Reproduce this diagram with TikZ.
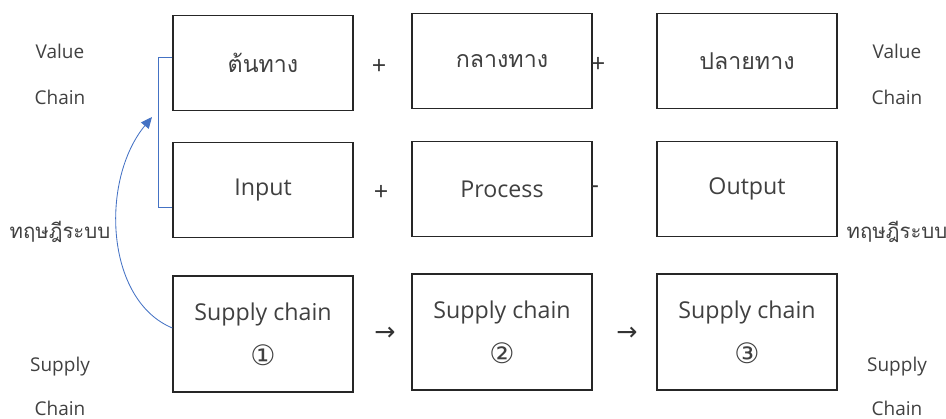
\documentclass[tikz,border=0pt]{standalone}
\usepackage{fontspec}
\setmainfont{Open Sans}
\newfontfamily\thaifont[Script=Thai]{Loma}
\newfontfamily\symfont{DejaVu Sans}
\usetikzlibrary{arrows.meta}
\definecolor{txtgray}{RGB}{64,64,64}
\definecolor{linkblue}{RGB}{68,114,196}
\newcommand{\circnum}[1]{{\fontsize{20}{20}\symfont #1}}

\begin{document}
\begin{tikzpicture}[x=0.025cm,y=-0.025cm,
  every node/.style={font=\fontsize{13.5}{16}\selectfont, text=txtgray},
  box/.style={draw=black!85, line width=0.9pt, minimum width=4.5cm,
    minimum height=2.375cm, align=center,
    font=\fontsize{16.5}{20}\selectfont},
  tallbox/.style={box, minimum height=2.9cm},
  sign/.style={font=\fontsize{18}{18}\selectfont, text=black!80}]
  \useasboundingbox (0,0) rectangle (946,419);
  % boxes
  \node[box] (ton) at (263,63) {\thaifont ต้นทาง};
  \node[box] (klang) at (502,61) {\thaifont กลางทาง};
  \node[box] (plai) at (747,61) {\thaifont ปลายทาง};
  \node[box] (in) at (263,190) {Input};
  \node[box] (proc) at (502,189) {Process};
  \node[box] (out) at (747,189) {Output};
  \node[tallbox] (sc1) at (263,334)
    {Supply chain\\[12pt]\circnum{①}};
  \node[tallbox] (sc2) at (502,332)
    {Supply chain\\[12pt]\circnum{②}};
  \node[tallbox] (sc3) at (747,332)
    {Supply chain\\[12pt]\circnum{③}};
  % side labels
  \node (vcl) at (60,51) {Value};
  \node (vcl2) at (60,97) {Chain};
  \node (vcr) at (897,51) {Value};
  \node (vcr2) at (897,97) {Chain};
  \node (sysl) at (60,232) {\fontsize{14.5}{16}\thaifont ทฤษฎีระบบ};
  \node (sysr) at (897,232) {\fontsize{14.5}{16}\thaifont ทฤษฎีระบบ};
  \node (scl) at (60,367) {Supply};
  \node (scl2) at (60,408) {Chain};
  \node (scr) at (897,367) {Supply};
  \node (scr2) at (897,408) {Chain};
  % signs between boxes
  \node[sign] (p1) at (379,67) {+};
  \node[sign] (p2) at (598,65) {+};
  \node[sign] (p3) at (381,193) {+};
  \node[sign] (p4) at (595,190) {-};
  \node[sign] (a1) at (385,334) {\symfont →};
  \node[sign] (a2) at (627,334) {\symfont →};
  % blue bracket and arrow
  \coordinate (brtop) at (158,57);
  \coordinate (brbot) at (158,207);
  \coordinate (tip) at (152,117);
  \draw [linkblue, line width=0.6pt]
    (ton.west |- brtop) -- (brtop) -- (brbot) -- (in.west |- brbot);
  \draw [linkblue, line width=0.6pt, -{Triangle[length=8pt,width=7pt]}]
    (sc1.west |- 0,328) .. controls (105,300) and (100,180) .. (tip);
\end{tikzpicture}
\end{document}
